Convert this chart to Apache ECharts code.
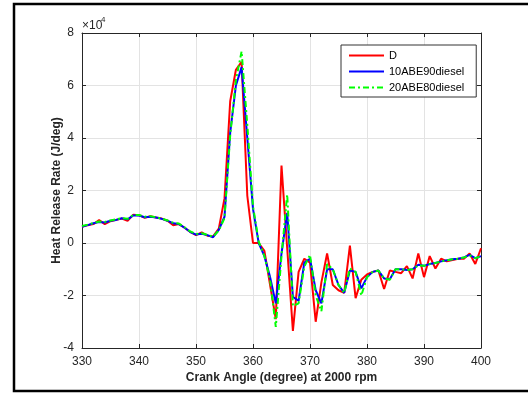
<!DOCTYPE html>
<html>
<head>
<meta charset="utf-8">
<script src="https://cdn.jsdelivr.net/npm/echarts@6/dist/echarts.min.js"></script>
<style>
  html, body { margin: 0; padding: 0; background: #fff; }
  #chart { width: 528px; height: 394px; }
</style>
</head>
<body>
<div id="chart"></div>
<script>
// crank angle (deg), heat release rate in units of 10^4 J/deg
const crankAngle = [
  330, 331, 332, 333, 334, 335, 336, 337, 338, 339,
  340, 341, 342, 343, 344, 345, 346, 347, 348, 349,
  350, 351, 352, 353, 354, 355, 356, 357, 358, 359,
  360, 361, 362, 363, 364, 365, 366, 367, 368, 369,
  370, 371, 372, 373, 374, 375, 376, 377, 378, 379,
  380, 381, 382, 383, 384, 385, 386, 387, 388, 389,
  390, 391, 392, 393, 394, 395, 396, 397, 398, 399, 400
];

const hrrD = [
  0.62, 0.68, 0.72, 0.87, 0.72, 0.83, 0.88, 0.93, 0.84, 1.08,
  1.06, 0.96, 1.02, 0.97, 0.93, 0.85, 0.68, 0.72, 0.58, 0.42,
  0.30, 0.40, 0.28, 0.25, 0.55, 1.70, 5.40, 6.60, 6.90, 1.80,
  0.00, 0.00, -0.30, -1.60, -2.90, 2.95, -0.20, -3.35, -1.10, -0.60,
  -0.75, -3.00, -1.50, -0.40, -1.60, -1.80, -1.90, -0.10, -2.10, -1.40,
  -1.20, -1.10, -1.05, -1.75, -1.05, -1.10, -1.15, -0.88, -1.35, -0.40,
  -1.30, -0.50, -0.97, -0.60, -0.70, -0.65, -0.60, -0.60, -0.40, -0.80, -0.20
];

const hrr10ABE = [
  0.62, 0.68, 0.75, 0.80, 0.78, 0.85, 0.88, 0.94, 0.90, 1.05,
  1.05, 0.98, 1.00, 0.97, 0.92, 0.85, 0.75, 0.72, 0.58, 0.42,
  0.32, 0.35, 0.30, 0.22, 0.50, 1.00, 4.20, 6.00, 6.70, 4.00,
  1.30, 0.00, -0.50, -1.30, -2.30, -0.40, 1.15, -2.05, -2.20, -0.75,
  -0.60, -1.80, -2.30, -1.00, -1.00, -1.60, -1.90, -1.05, -1.10, -1.73,
  -1.30, -1.10, -1.05, -1.35, -1.38, -1.00, -1.00, -1.03, -1.00, -0.83,
  -0.87, -0.80, -0.76, -0.70, -0.66, -0.62, -0.60, -0.55, -0.45, -0.58, -0.50
];

const hrr20ABE = [
  0.65, 0.70, 0.76, 0.82, 0.80, 0.86, 0.90, 0.95, 0.92, 1.07,
  1.07, 1.00, 1.02, 0.98, 0.93, 0.86, 0.77, 0.74, 0.60, 0.44,
  0.34, 0.37, 0.31, 0.24, 0.48, 0.95, 4.10, 6.20, 7.30, 4.50,
  1.40, 0.05, -0.50, -1.40, -3.20, -0.50, 1.85, -2.40, -2.30, -0.90,
  -0.45, -2.00, -2.60, -0.80, -1.00, -1.60, -1.90, -0.97, -1.10, -2.00,
  -1.30, -1.10, -1.05, -1.35, -1.40, -1.00, -1.00, -1.03, -1.00, -0.85,
  -0.87, -0.80, -0.76, -0.70, -0.66, -0.62, -0.60, -0.55, -0.47, -0.58, -0.50
];

const seriesNames = ['D', '10ABE90diesel', '20ABE80diesel'];

const pairs = (vals) => crankAngle.map((a, i) => [a, vals[i]]);

const font = 'Liberation Sans, Arial, Helvetica, sans-serif';
const ink = '#262626';
const gridLine = { show: true, lineStyle: { color: '#e3e3e3', width: 1 } };
const boxLine = { show: true, onZero: false, lineStyle: { color: ink, width: 1 } };
const inTick = { show: true, inside: true, length: 4, lineStyle: { color: ink } };

const chart = echarts.init(document.getElementById('chart'), null, { renderer: 'canvas' });

chart.setOption({
  animation: false,
  backgroundColor: '#fff',
  textStyle: { fontFamily: font },
  grid: { left: 82, top: 33, right: 47, bottom: 46, containLabel: false },
  legend: {
    left: 341, top: 45,
    orient: 'vertical',
    itemWidth: 35, itemHeight: 10, itemGap: 5,
    padding: [5, 12, 4, 7],
    backgroundColor: '#fff',
    borderColor: '#333', borderWidth: 1, borderRadius: 0,
    textStyle: { fontSize: 11, color: '#000', fontFamily: font },
    itemStyle: { opacity: 0 },
    data: seriesNames
  },
  xAxis: [
    {
      type: 'value', min: 330, max: 400, interval: 10,
      name: 'Crank Angle (degree) at 2000 rpm',
      nameLocation: 'middle', nameGap: 24, nameMoveOverlap: false,
      nameTextStyle: { fontWeight: 'bold', fontSize: 12, color: ink, fontFamily: font },
      axisLine: boxLine,
      axisTick: inTick,
      axisLabel: { fontSize: 12, color: ink, margin: 8 },
      splitLine: gridLine
    },
    {
      type: 'value', min: 330, max: 400, interval: 10, position: 'top',
      axisLine: boxLine,
      axisTick: inTick,
      axisLabel: { show: false },
      splitLine: { show: false }
    }
  ],
  yAxis: [
    {
      type: 'value', min: -4, max: 8, interval: 2,
      name: 'Heat Release Rate (J/deg)',
      nameLocation: 'middle', nameGap: 19, nameMoveOverlap: false,
      nameTextStyle: { fontWeight: 'bold', fontSize: 12, color: ink, fontFamily: font },
      axisLine: boxLine,
      axisTick: inTick,
      axisLabel: { fontSize: 12, color: ink, margin: 8 },
      splitLine: gridLine
    },
    {
      type: 'value', min: -4, max: 8, interval: 2, position: 'right',
      axisLine: boxLine,
      axisTick: inTick,
      axisLabel: { show: false },
      splitLine: { show: false }
    }
  ],
  series: [
    {
      name: seriesNames[0], type: 'line', data: pairs(hrrD),
      symbol: 'none', color: '#ff0000',
      lineStyle: { color: '#ff0000', width: 2 }
    },
    {
      name: seriesNames[1], type: 'line', data: pairs(hrr10ABE),
      symbol: 'none', color: '#0000ff',
      lineStyle: { color: '#0000ff', width: 2 }
    },
    {
      name: seriesNames[2], type: 'line', data: pairs(hrr20ABE),
      symbol: 'none', color: '#00ff00',
      lineStyle: { color: '#00ff00', width: 2, type: [6, 3, 2, 3] }
    }
  ],
  graphic: [
    // outer frame of the figure
    {
      type: 'rect', silent: true,
      shape: { x: 14, y: 4, width: 540, height: 387 },
      style: { fill: 'none', stroke: '#000', lineWidth: 2.5 }
    },
    {
      type: 'text', left: 82, top: 20,
      style: { text: '×10', fontSize: 12, fill: ink, fontFamily: font }
    },
    {
      type: 'text', left: 101, top: 16,
      style: { text: '4', fontSize: 8, fill: ink, fontFamily: font }
    }
  ]
});
</script>
</body>
</html>
